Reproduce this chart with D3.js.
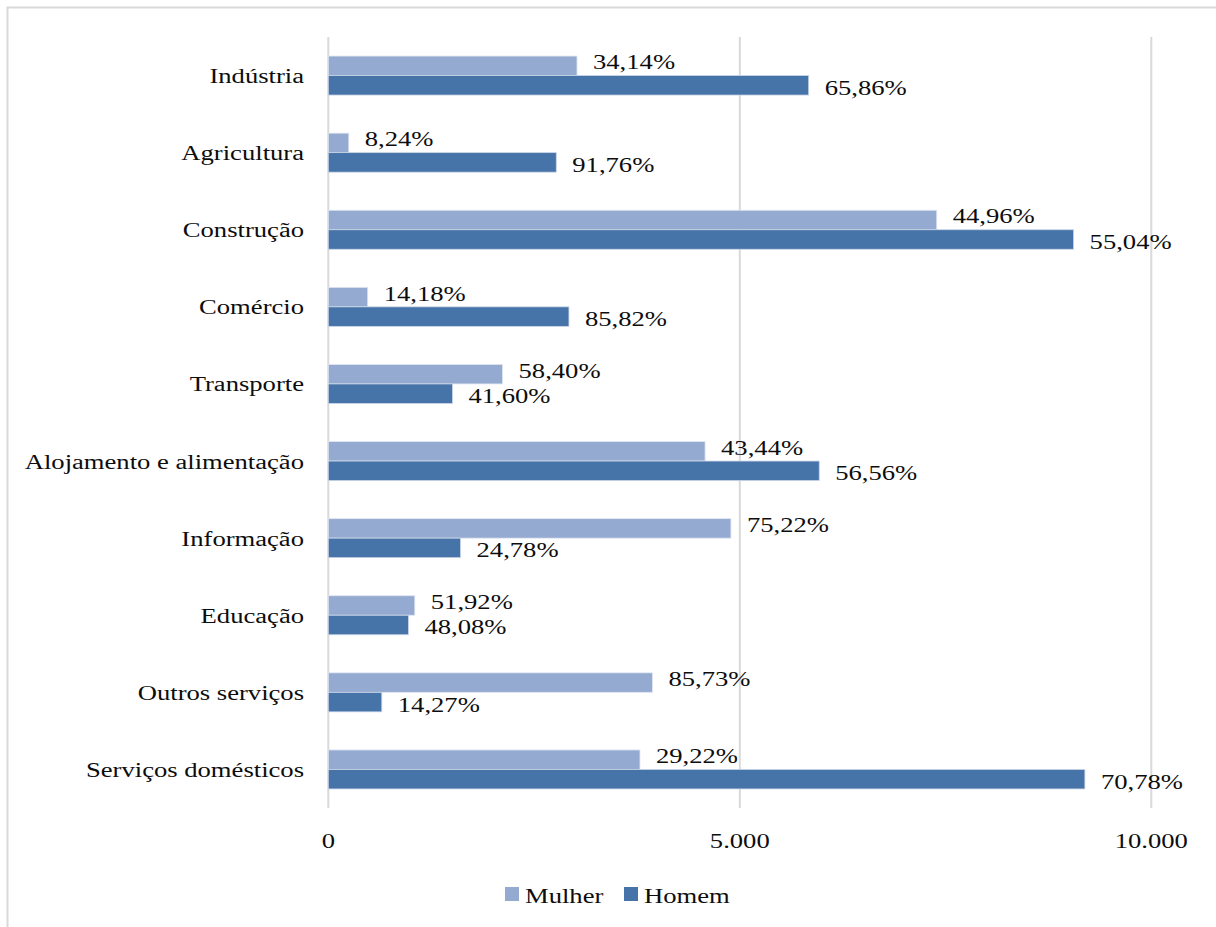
<!DOCTYPE html>
<html>
<head>
<meta charset="utf-8">
<script src="https://cdn.jsdelivr.net/npm/d3@7"></script>
<style>
  body { margin: 0; background: #fff; }
</style>
</head>
<body>
<div id="chart"></div>
<script>
// data
const categories = ["Indústria", "Agricultura", "Construção", "Comércio", "Transporte",
    "Alojamento e alimentação", "Informação", "Educação", "Outros serviços", "Serviços domésticos"];
const mulher = [3022, 249, 7393, 479, 2117, 4578, 4892, 1051, 3938, 3787];
const homem = [5837, 2770, 9056, 2924, 1509, 5965, 1607, 973, 650, 9193];
const mulherPct = ["34,14%", "8,24%", "44,96%", "14,18%", "58,40%", "43,44%", "75,22%", "51,92%", "85,73%", "29,22%"];
const homemPct = ["65,86%", "91,76%", "55,04%", "85,82%", "41,60%", "56,56%", "24,78%", "48,08%", "14,27%", "70,78%"];
const tickValues = [0, 5000, 10000];
const seriesNames = ["Mulher", "Homem"];
const seriesColors = ["#95aad1", "#4673a8"];

const width = 1216, height = 927;
const margin = { top: 37, left: 328.3, right: 64.7, bottom: 119 };
const fontFamily = "'Liberation Serif', 'Times New Roman', Times, serif";
const fontSize = 21.3;
const stretch = 1.25; // the reference text is widened horizontally

const svg = d3.select("#chart").append("svg")
    .attr("width", width)
    .attr("height", height)
    .attr("font-family", fontFamily)
    .attr("font-size", fontSize)
    .attr("fill", "#0d0d0d");

// place a text at (px, py) with horizontal stretch
const place = (px, py) => `translate(${px},${py}) scale(${stretch},1)`;

// outer frame (only top and left edges show)
svg.append("rect")
    .attr("x", 7.5).attr("y", 7.5)
    .attr("width", width + 20).attr("height", height + 20)
    .attr("fill", "none")
    .attr("stroke", "#d9d9d9")
    .attr("stroke-width", 2);

const x = d3.scaleLinear()
    .domain([0, 10000])
    .range([margin.left, width - margin.right]);

const y = d3.scaleBand()
    .domain(categories)
    .range([margin.top, height - margin.bottom]);

const barH = 19.5;
const center = c => y(c) + y.bandwidth() / 2;

// gridlines
svg.append("g").selectAll("line")
    .data(tickValues)
    .join("line")
    .attr("x1", d => x(d)).attr("x2", d => x(d))
    .attr("y1", margin.top).attr("y2", height - margin.bottom)
    .attr("stroke", "#d9d9d9")
    .attr("stroke-width", 2);

// x tick labels
svg.append("g").selectAll("text")
    .data(tickValues)
    .join("text")
    .attr("transform", d => place(x(d), 848))
    .attr("text-anchor", "middle")
    .text(d => d3.format(",")(d).replace(/,/g, "."));

// category labels
svg.append("g").selectAll("text")
    .data(categories)
    .join("text")
    .attr("transform", d => place(304, center(d)))
    .attr("dy", "0.35em")
    .attr("text-anchor", "end")
    .text(d => d);

// bars
const bars = svg.append("g");
bars.selectAll(".mulher")
    .data(categories)
    .join("rect")
    .attr("class", "mulher")
    .attr("x", x(0))
    .attr("y", d => center(d) - barH)
    .attr("width", (d, i) => x(mulher[i]) - x(0))
    .attr("height", barH)
    .attr("fill", seriesColors[0])
    .attr("stroke", "#dfe6f1")
    .attr("stroke-width", 0.8);

bars.selectAll(".homem")
    .data(categories)
    .join("rect")
    .attr("class", "homem")
    .attr("x", x(0))
    .attr("y", d => center(d))
    .attr("width", (d, i) => x(homem[i]) - x(0))
    .attr("height", barH)
    .attr("fill", seriesColors[1])
    .attr("stroke", "#c9d5e6")
    .attr("stroke-width", 0.8);

// value labels
const labels = svg.append("g");
labels.selectAll(".lm")
    .data(categories)
    .join("text")
    .attr("transform", (d, i) => place(x(mulher[i]) + 16, center(d) - barH / 2 - 4))
    .attr("dy", "0.35em")
    .text((d, i) => mulherPct[i]);

labels.selectAll(".lh")
    .data(categories)
    .join("text")
    .attr("transform", (d, i) => place(x(homem[i]) + 16, center(d) + barH / 2 + 2))
    .attr("dy", "0.35em")
    .text((d, i) => homemPct[i]);

// legend
const legendX = [505, 624];
const legend = svg.append("g").selectAll("g")
    .data(seriesNames)
    .join("g")
    .attr("transform", (d, i) => `translate(${legendX[i]},887)`);
legend.append("rect")
    .attr("width", 14).attr("height", 14)
    .attr("fill", (d, i) => seriesColors[i]);
legend.append("text")
    .attr("transform", place(20, 15.5))
    .text(d => d);
</script>
</body>
</html>
